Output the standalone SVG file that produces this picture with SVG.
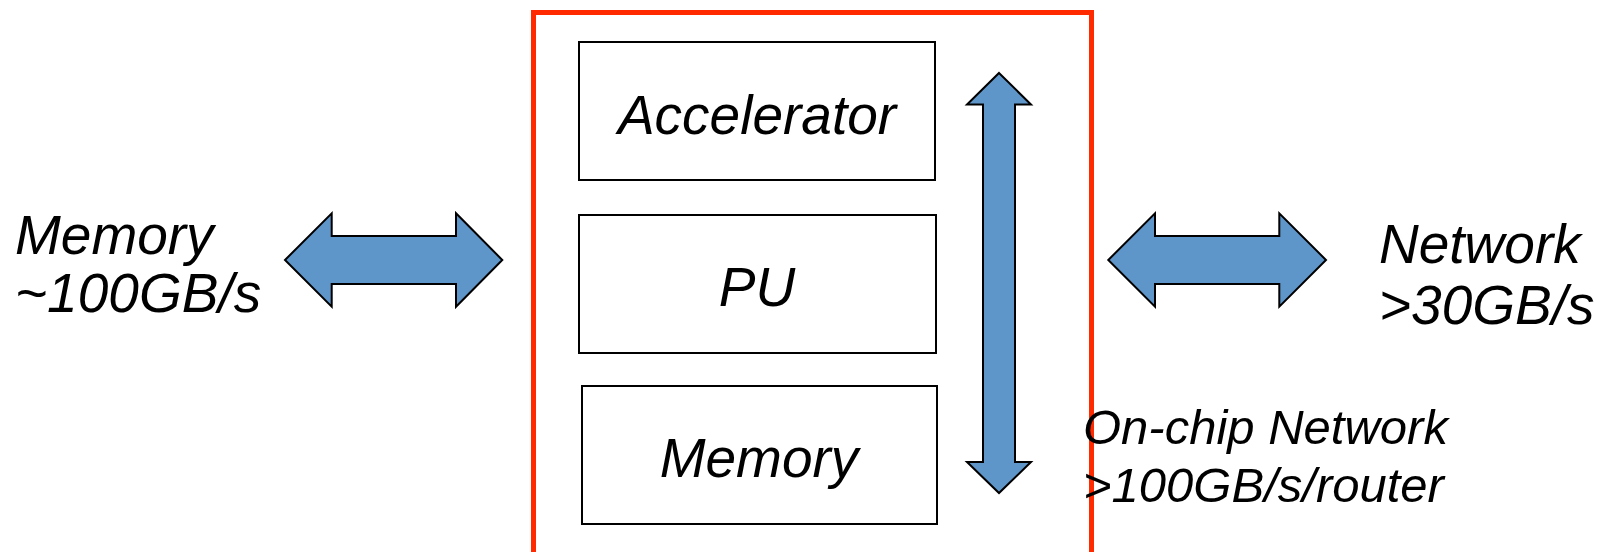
<svg xmlns="http://www.w3.org/2000/svg" width="1598" height="552" viewBox="0 0 1598 552">
<style>
.box{fill:#fff;stroke:#000;stroke-width:2}
.arrow{fill:#5E96CA;stroke:#000;stroke-width:2;stroke-linejoin:miter}
.lbl{font-family:"Liberation Sans",Arial,sans-serif;font-style:italic;font-size:55px;fill:#000}
.small{font-size:49px}
</style>
<rect width="1598" height="552" fill="#fff"/>
<g id="chip">
<rect x="533.5" y="12.5" width="558" height="560" fill="none" stroke="#FF2A00" stroke-width="5"/>
</g>
<g id="accelerator">
<rect class="box" x="579" y="42" width="356" height="138"/>
<text class="lbl" x="757" y="134" text-anchor="middle">Accelerator</text>
</g>
<g id="pu">
<rect class="box" x="579" y="215" width="357" height="138"/>
<text class="lbl" x="757" y="306" text-anchor="middle">PU</text>
</g>
<g id="memory-onchip">
<rect class="box" x="582" y="386" width="355" height="138"/>
<text class="lbl" x="759" y="477" text-anchor="middle">Memory</text>
</g>
<g id="memory-ext">
<text class="lbl" x="15" y="254">Memory</text>
<text class="lbl" x="15" y="312">~100GB/s</text>
</g>
<g id="network-ext">
<text class="lbl" x="1379" y="263">Network</text>
<text class="lbl" x="1379" y="324">&gt;30GB/s</text>
</g>
<g id="onchip-network">
<text class="lbl small" x="1083" y="444">On-chip Network</text>
<text class="lbl small" x="1083" y="502">&gt;100GB/s/router</text>
</g>
<g id="connectors">
<polygon class="arrow" points="285,260 331.7,213.3 331.7,236 456,236 456,213.3 502.3,260 456,306.7 456,284 331.7,284 331.7,306.7"/>
<polygon class="arrow" points="1108.3,260 1155,213.3 1155,236 1279.3,236 1279.3,213.3 1326,260 1279.3,306.7 1279.3,284 1155,284 1155,306.7"/>
<polygon class="arrow" points="999,73 1031,104.5 1015,104.5 1015,462 1031,462 999,493 967,462 983,462 983,104.5 967,104.5"/>
</g>
</svg>
